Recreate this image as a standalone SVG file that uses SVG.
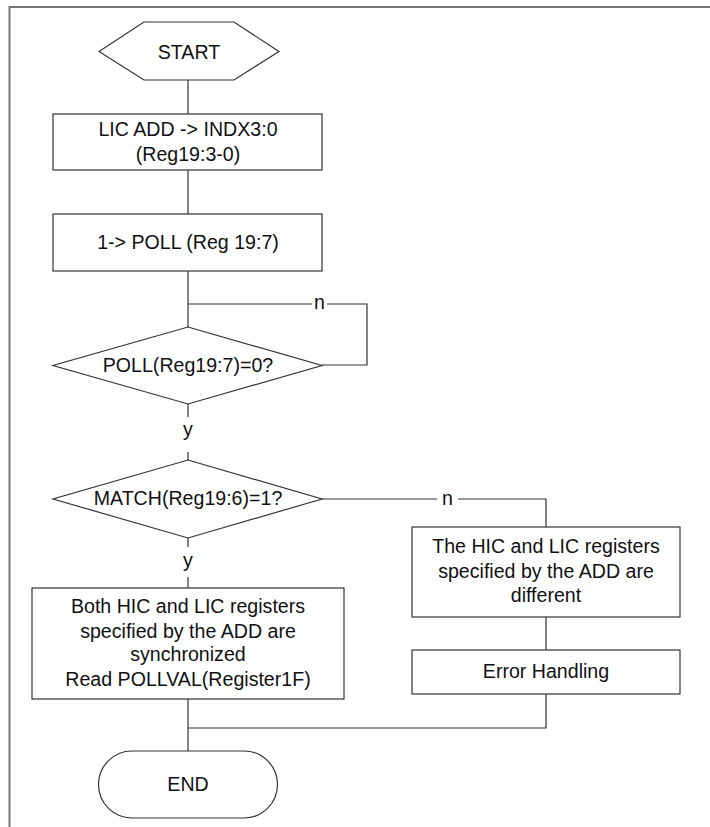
<svg xmlns="http://www.w3.org/2000/svg" width="710" height="827" viewBox="0 0 710 827">
<style>
.s{fill:#fff;stroke:#333;stroke-width:1.2}
.c{fill:none;stroke:#333;stroke-width:1.2}
.t{font-family:"Liberation Sans",Arial,sans-serif;font-size:19.6px;fill:#111;text-anchor:middle}
</style>
<rect width="710" height="827" fill="#fff"/>
<path d="M9.5,827 V7 H710" fill="none" stroke="#777" stroke-width="2"/>
<g id="connectors">
<path class="c" d="M188,80 V114"/>
<path class="c" d="M188,170 V214"/>
<path class="c" d="M188,271 V327"/>
<path class="c" d="M188,304 H312 M327,304 H367 V365 H322"/>
<path class="c" d="M188,404 V417 M188,452 V460"/>
<path class="c" d="M188,538 V547 M188,577 V588"/>
<path class="c" d="M322,499 H437 M458,499 H546 V527"/>
<path class="c" d="M546,617 V650"/>
<path class="c" d="M546,694 V728 H188"/>
<path class="c" d="M188,699 V751"/>
<text class="t" x="319.5" y="309">n</text>
<text class="t" x="447.5" y="505">n</text>
<text class="t" x="188" y="436">y</text>
<text class="t" x="188" y="567">y</text>
</g>
<g id="start">
<polygon class="s" points="99,51.5 144,22 234,22 279,51.5 234,80 144,80"/>
<text class="t" x="189" y="58.5">START</text>
</g>
<g id="set-index">
<rect class="s" x="53" y="114" width="269" height="56"/>
<text class="t" x="188" y="135.7">LIC ADD -&gt; INDX3:0</text>
<text class="t" x="188" y="160.7">(Reg19:3-0)</text>
</g>
<g id="set-poll">
<rect class="s" x="53" y="214" width="269" height="57"/>
<text class="t" x="188" y="249">1-&gt; POLL (Reg 19:7)</text>
</g>
<g id="poll-check">
<polygon class="s" points="188,327 322,365.5 188,404 53,365.5"/>
<text class="t" x="188" y="371.5">POLL(Reg19:7)=0?</text>
</g>
<g id="match-check">
<polygon class="s" points="188,460 322,499 188,538 53,499"/>
<text class="t" x="188" y="505">MATCH(Reg19:6)=1?</text>
</g>
<g id="different">
<rect class="s" x="412" y="527" width="268" height="90"/>
<text class="t" x="546" y="552.7">The HIC and LIC registers</text>
<text class="t" x="546" y="578">specified by the ADD are</text>
<text class="t" x="546" y="601.7">different</text>
</g>
<g id="error">
<rect class="s" x="412" y="650" width="268" height="44"/>
<text class="t" x="546" y="678">Error Handling</text>
</g>
<g id="synchronized">
<rect class="s" x="32" y="588" width="312" height="111"/>
<text class="t" x="188" y="613.3">Both HIC and LIC registers</text>
<text class="t" x="188" y="637.7">specified by the ADD are</text>
<text class="t" x="188" y="660.7">synchronized</text>
<text class="t" x="188" y="685.7">Read POLLVAL(Register1F)</text>
</g>
<g id="end">
<rect class="s" x="98.5" y="751" width="179" height="67" rx="33.5" ry="33.5"/>
<text class="t" x="188" y="790.5">END</text>
</g>
</svg>
